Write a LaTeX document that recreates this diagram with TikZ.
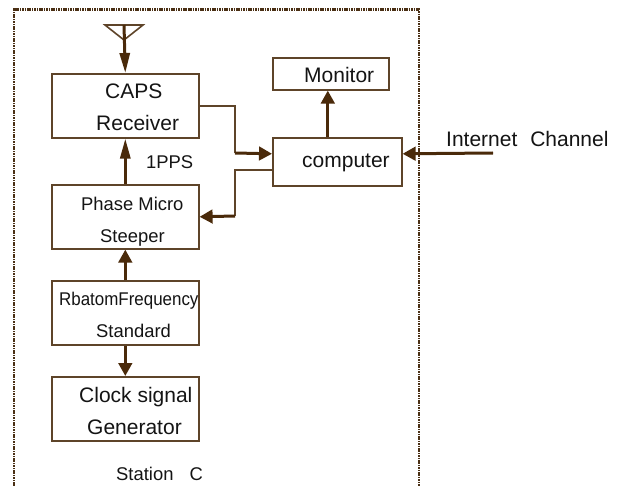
\documentclass[tikz,border=0pt]{standalone}
\usepackage{fontspec}
\setmainfont{Liberation Sans}
\usetikzlibrary{arrows.meta}
\definecolor{boxc}{HTML}{5E4429}
\definecolor{thickc}{HTML}{4A2A0A}
\definecolor{framec}{HTML}{4A2F14}
\definecolor{txtc}{HTML}{141414}
\tikzset{
  box/.style={draw=boxc,line width=1.6pt,fill=white,inner sep=0pt,minimum width=147pt,minimum height=64pt,anchor=north west},
  big/.style={anchor=base west,inner sep=0pt,text=txtc,font=\fontsize{21}{21}\selectfont},
  small/.style={anchor=base west,inner sep=0pt,text=txtc,font=\fontsize{18.4}{18.4}\selectfont},
  thin wire/.style={draw=boxc,line width=1.6pt},
  wide/.style={draw=thickc,line width=3pt,-{Triangle[length=13pt,width=13.5pt]}},
  narrow/.style={draw=thickc,line width=3pt,-{Triangle[length=20pt,width=10pt]}},
  frame/.style={draw=framec,line width=2.6pt,dash pattern=on 1.6pt off 0.8pt}
}
\begin{document}
\begin{tikzpicture}[x=1pt,y=-1pt]
\useasboundingbox (0,0) rectangle (617,486);
\fill[white] (0,0) rectangle (617,486);
\draw[frame] (14,486) -- (14,9.5) -- (419,9.5) -- (419,486);
% boxes
\node[box] (caps) at (51,73) {};
\node[box] (phase) at (51,184) {};
\node[box] (rb) at (51,280) {};
\node[box] (clock) at (51,376) {};
\node[box,minimum width=116pt,minimum height=32pt] (monitor) at (272,57) {};
\node[box,minimum width=129pt,minimum height=48pt] (computer) at (272,137) {};
% antenna
\coordinate (antL) at (105,25);
\coordinate (antR) at (143,25);
\coordinate (antB) at (124,40);
\coordinate (antT) at (124,25);
\draw[thin wire,line join=miter] (antL) -- (antR) -- (antB) -- cycle;
\draw[narrow] (antT) -- (caps.north);
% connectors
\coordinate (j1) at (235,153);
\coordinate (j2) at (235,216);
\coordinate (net) at (493,153);
\draw[thin wire] (caps.east) -| (j1);
\draw[wide] (j1) -- ([yshift=8pt]computer.west);
\draw[thin wire] ([yshift=-8pt]computer.west) -| (j2);
\draw[wide] (j2) -- (phase.east);
\draw[wide] ([xshift=-9.5pt]computer.north) -- ([xshift=-3pt]monitor.south);
\draw[wide] (net) -- ([yshift=8pt]computer.east);
\draw[narrow] (phase.north) -- (caps.south);
\draw[wide] (rb.north) -- (phase.south);
\draw[wide] (rb.south) -- (clock.north);
% labels
\node[big] (t1) at (105,98.7) {CAPS};
\node[big] (t2) at (96,130.7) {Receiver};
\node[small] (t3) at (146,169) {1PPS};
\node[small] (t4) at (81,210) {Phase Micro};
\node[small] (t5) at (100,242) {Steeper};
\node[small] (t6) at (59,305) {\scalebox{0.92}[1]{RbatomFrequency}};
\node[small] (t7) at (96,337) {Standard};
\node[big] (t8) at (79,402) {Clock signal};
\node[big] (t9) at (87,434) {Generator};
\node[big] (t10) at (304,83) {Monitor};
\node[big] (t11) at (302,168) {computer};
\node[big] (t12) at (446,147) {Internet\hspace{7pt} Channel};
\node[small] (t13) at (116,480) {Station\hspace{11pt} C};
\end{tikzpicture}
\end{document}
